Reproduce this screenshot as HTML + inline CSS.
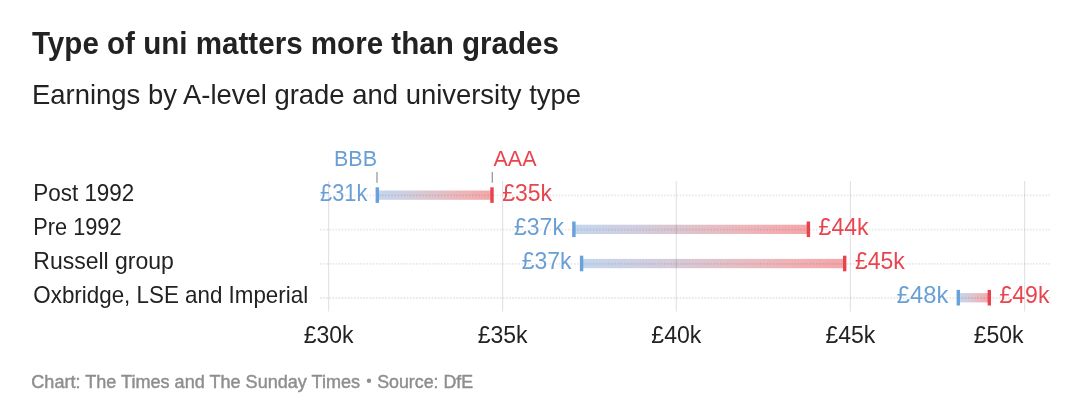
<!DOCTYPE html>
<html><head><meta charset="utf-8"><style>
html,body{margin:0;padding:0;background:#fff;width:1080px;height:419px;overflow:hidden}
svg{display:block;will-change:transform}
text{font-family:"Liberation Sans",sans-serif}
</style></head><body>
<svg width="1080" height="419" viewBox="0 0 1080 419">
<defs>
<linearGradient id="g" x1="0" x2="1" y1="0" y2="0">
<stop offset="0" stop-color="#c3d6ee"/><stop offset="0.25" stop-color="#d0cee0"/><stop offset="0.5" stop-color="#e0c3cb"/><stop offset="0.75" stop-color="#eeb5b9"/><stop offset="1" stop-color="#f4a6a9"/>
</linearGradient>
</defs>
<text x="32" y="54.3" font-size="31" font-weight="bold" fill="#222" textLength="527" lengthAdjust="spacingAndGlyphs">Type of uni matters more than grades</text>
<text x="32" y="103.6" font-size="28.3" fill="#222" textLength="549" lengthAdjust="spacingAndGlyphs">Earnings by A-level grade and university type</text>
<rect x="377.3" y="190.50" width="114.70" height="9.3" fill="url(#g)"/>
<rect x="573.9" y="224.70" width="234.50" height="9.3" fill="url(#g)"/>
<rect x="581.6" y="258.90" width="263.10" height="9.3" fill="url(#g)"/>
<rect x="958.3" y="293.10" width="31.00" height="9.3" fill="url(#g)"/>
<line x1="320" x2="1050" y1="195.40" y2="195.40" stroke="rgba(0,0,0,0.095)" stroke-width="1.8" stroke-dasharray="1.6,1.5"/>
<line x1="320" x2="1050" y1="229.60" y2="229.60" stroke="rgba(0,0,0,0.095)" stroke-width="1.8" stroke-dasharray="1.6,1.5"/>
<line x1="320" x2="1050" y1="263.80" y2="263.80" stroke="rgba(0,0,0,0.095)" stroke-width="1.8" stroke-dasharray="1.6,1.5"/>
<line x1="320" x2="1050" y1="298.00" y2="298.00" stroke="rgba(0,0,0,0.095)" stroke-width="1.8" stroke-dasharray="1.6,1.5"/>
<text x="367.30" y="200.55" font-size="23.4" text-anchor="end" textLength="47.2" lengthAdjust="spacingAndGlyphs" fill="#fff" stroke="#fff" stroke-width="2" stroke-linejoin="round">£31k</text>
<text x="502.20" y="200.55" font-size="23.4" textLength="49.9" lengthAdjust="spacingAndGlyphs" fill="#fff" stroke="#fff" stroke-width="2" stroke-linejoin="round">£35k</text>
<text x="563.90" y="234.75" font-size="23.4" text-anchor="end" textLength="49.9" lengthAdjust="spacingAndGlyphs" fill="#fff" stroke="#fff" stroke-width="2" stroke-linejoin="round">£37k</text>
<text x="818.60" y="234.75" font-size="23.4" textLength="49.9" lengthAdjust="spacingAndGlyphs" fill="#fff" stroke="#fff" stroke-width="2" stroke-linejoin="round">£44k</text>
<text x="571.60" y="268.95" font-size="23.4" text-anchor="end" textLength="49.9" lengthAdjust="spacingAndGlyphs" fill="#fff" stroke="#fff" stroke-width="2" stroke-linejoin="round">£37k</text>
<text x="854.90" y="268.95" font-size="23.4" textLength="49.9" lengthAdjust="spacingAndGlyphs" fill="#fff" stroke="#fff" stroke-width="2" stroke-linejoin="round">£45k</text>
<text x="948.30" y="303.15" font-size="23.4" text-anchor="end" textLength="51.5" lengthAdjust="spacingAndGlyphs" fill="#fff" stroke="#fff" stroke-width="2" stroke-linejoin="round">£48k</text>
<text x="999.50" y="303.15" font-size="23.4" textLength="49.9" lengthAdjust="spacingAndGlyphs" fill="#fff" stroke="#fff" stroke-width="2" stroke-linejoin="round">£49k</text>
<line x1="328.6" x2="328.6" y1="181" y2="311.5" stroke="rgba(0,0,0,0.11)" stroke-width="1.2"/>
<line x1="502.6" x2="502.6" y1="181" y2="311.5" stroke="rgba(0,0,0,0.11)" stroke-width="1.2"/>
<line x1="676.3" x2="676.3" y1="181" y2="311.5" stroke="rgba(0,0,0,0.11)" stroke-width="1.2"/>
<line x1="850.4" x2="850.4" y1="181" y2="311.5" stroke="rgba(0,0,0,0.11)" stroke-width="1.2"/>
<line x1="1024.6" x2="1024.6" y1="181" y2="311.5" stroke="rgba(0,0,0,0.11)" stroke-width="1.2"/>
<text x="367.30" y="200.55" font-size="23.4" text-anchor="end" textLength="47.2" lengthAdjust="spacingAndGlyphs" fill="#6a9fd6">£31k</text>
<text x="502.20" y="200.55" font-size="23.4" textLength="49.9" lengthAdjust="spacingAndGlyphs" fill="#e8464f">£35k</text>
<text x="563.90" y="234.75" font-size="23.4" text-anchor="end" textLength="49.9" lengthAdjust="spacingAndGlyphs" fill="#6a9fd6">£37k</text>
<text x="818.60" y="234.75" font-size="23.4" textLength="49.9" lengthAdjust="spacingAndGlyphs" fill="#e8464f">£44k</text>
<text x="571.60" y="268.95" font-size="23.4" text-anchor="end" textLength="49.9" lengthAdjust="spacingAndGlyphs" fill="#6a9fd6">£37k</text>
<text x="854.90" y="268.95" font-size="23.4" textLength="49.9" lengthAdjust="spacingAndGlyphs" fill="#e8464f">£45k</text>
<text x="948.30" y="303.15" font-size="23.4" text-anchor="end" textLength="51.5" lengthAdjust="spacingAndGlyphs" fill="#6a9fd6">£48k</text>
<text x="999.50" y="303.15" font-size="23.4" textLength="49.9" lengthAdjust="spacingAndGlyphs" fill="#e8464f">£49k</text>
<rect x="375.60" y="187.30" width="3.4" height="15.6" fill="#6aa1db"/>
<rect x="490.30" y="187.30" width="3.4" height="15.6" fill="#e8434d"/>
<text x="33.3" y="200.55" font-size="23.4" fill="#222" textLength="101.0" lengthAdjust="spacingAndGlyphs">Post 1992</text>
<rect x="572.20" y="221.50" width="3.4" height="15.6" fill="#6aa1db"/>
<rect x="806.70" y="221.50" width="3.4" height="15.6" fill="#e8434d"/>
<text x="33.3" y="234.75" font-size="23.4" fill="#222" textLength="88.2" lengthAdjust="spacingAndGlyphs">Pre 1992</text>
<rect x="579.90" y="255.70" width="3.4" height="15.6" fill="#6aa1db"/>
<rect x="843.00" y="255.70" width="3.4" height="15.6" fill="#e8434d"/>
<text x="33.3" y="268.95" font-size="23.4" fill="#222" textLength="140.6" lengthAdjust="spacingAndGlyphs">Russell group</text>
<rect x="956.60" y="289.90" width="3.4" height="15.6" fill="#6aa1db"/>
<rect x="987.60" y="289.90" width="3.4" height="15.6" fill="#e8434d"/>
<text x="33.3" y="303.15" font-size="23.4" fill="#222" textLength="274.85" lengthAdjust="spacingAndGlyphs">Oxbridge, LSE and Imperial</text>
<line x1="377.0" x2="377.0" y1="172" y2="182.8" stroke="#999" stroke-width="1.3"/>
<line x1="492.3" x2="492.3" y1="172" y2="182.8" stroke="#999" stroke-width="1.3"/>
<text x="377" y="165.7" font-size="21.5" fill="#6a9fd6" text-anchor="end">BBB</text>
<text x="493.5" y="165.7" font-size="21.5" fill="#e8464f">AAA</text>
<text x="328.6" y="343" font-size="23" fill="#222" text-anchor="middle">£30k</text>
<text x="502.6" y="343" font-size="23" fill="#222" text-anchor="middle">£35k</text>
<text x="676.3" y="343" font-size="23" fill="#222" text-anchor="middle">£40k</text>
<text x="850.4" y="343" font-size="23" fill="#222" text-anchor="middle">£45k</text>
<text x="1023.5999999999999" y="343" font-size="23" fill="#222" text-anchor="end">£50k</text>
<text x="31.3" y="387.5" font-size="18.7" fill="#8e8e8e" stroke="#8e8e8e" stroke-width="0.45" lengthAdjust="spacingAndGlyphs" textLength="328.8">Chart: The Times and The Sunday Times</text>
<circle cx="369" cy="380.8" r="2.2" fill="#8e8e8e"/>
<text x="377.2" y="387.5" font-size="18.7" fill="#8e8e8e" stroke="#8e8e8e" stroke-width="0.45" lengthAdjust="spacingAndGlyphs" textLength="96">Source: DfE</text>
</svg></body></html>
